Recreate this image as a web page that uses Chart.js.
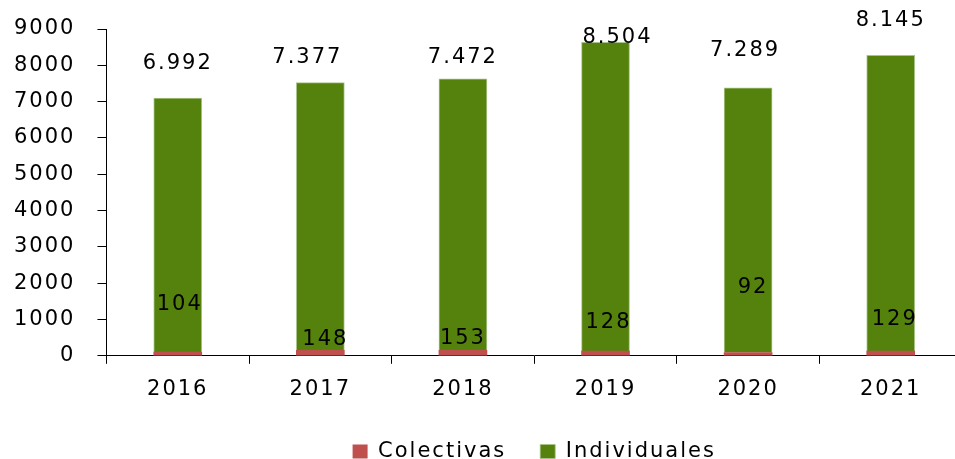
<!DOCTYPE html>
<html>
<head>
<meta charset="utf-8">
<script src="https://cdn.jsdelivr.net/npm/chart.js@4/dist/chart.umd.min.js"></script>
<style>
  html, body { margin: 0; padding: 0; background: #fff; overflow: hidden; }
  #wrap { width: 962px; height: 459px; }
</style>
</head>
<body>
<div id="wrap"><canvas id="chart"></canvas></div>
<script>
// Chart data
const years = ['2016', '2017', '2018', '2019', '2020', '2021'];
const colectivas = [104, 148, 153, 128, 92, 129];
const individuales = [6992, 7377, 7472, 8504, 7289, 8145];
const yTicks = { min: 0, max: 9000, step: 1000 };

// Thousands with a dot, as in the original
function fmt(n) {
    return String(n).replace(/\B(?=(\d{3})+(?!\d))/g, '.');
}

// Where the labels sit: [x shift in px, height in axis units]
const labelSpots = {
    1: [[0, 8056], [-13, 8222], [0, 8222], [12, 8778], [-3, 8417], [0, 9222]],
    0: [[2, 1417], [5, 444], [0, 472], [3, 917], [5, 1889], [4, 1000]]
};

const FONT = { family: "'DejaVu Sans', Verdana, sans-serif", size: 21 };

// Wider letter spacing, like the source picture
const spacing = {
    id: 'spacing',
    beforeUpdate(chart) { chart.ctx.letterSpacing = '2px'; },
    beforeDraw(chart) { chart.ctx.letterSpacing = '2px'; }
};

// Draw value labels
const valueLabels = {
    id: 'valueLabels',
    afterDatasetsDraw(chart) {
        const ctx = chart.ctx;
        const yScale = chart.scales.y;
        ctx.save();
        ctx.letterSpacing = '2px';
        ctx.font = FONT.size + 'px ' + FONT.family;
        ctx.fillStyle = '#000';
        ctx.textAlign = 'center';
        ctx.textBaseline = 'middle';
        chart.data.datasets.forEach((ds, i) => {
            const meta = chart.getDatasetMeta(i);
            meta.data.forEach((bar, j) => {
                const spot = labelSpots[i][j];
                ctx.fillText(fmt(ds.data[j]), bar.x + spot[0], yScale.getPixelForValue(spot[1]));
            });
        });
        ctx.restore();
    }
};

new Chart(document.getElementById('chart').getContext('2d'), {
    type: 'bar',
    data: {
        labels: years,
        datasets: [{
            label: 'Colectivas',
            data: colectivas,
            backgroundColor: '#C0504D',
            borderWidth: 0,
            barThickness: 48
        }, {
            label: 'Individuales',
            data: individuales,
            backgroundColor: '#55820C',
            borderColor: '#A8C48A',
            borderWidth: { left: 1, right: 1, top: 1, bottom: 0 },
            borderSkipped: false,
            barThickness: 48
        }]
    },
    options: {
        responsive: true,
        maintainAspectRatio: false,
        animation: false,
        layout: { padding: { top: 29, left: -8, right: 0, bottom: -13 } },
        plugins: {
            legend: {
                position: 'bottom',
                fullSize: false,
                labels: {
                    font: FONT,
                    color: '#000',
                    boxWidth: 15,
                    boxHeight: 14,
                    padding: 34
                }
            },
            tooltip: { enabled: false }
        },
        scales: {
            x: {
                stacked: true,
                border: { display: true, color: '#000', width: 1 },
                grid: { drawOnChartArea: false, drawTicks: true, tickLength: 8, color: '#000' },
                ticks: { font: FONT, color: '#000', padding: 13 },
                afterFit: (s) => { s.height -= 8; }
            },
            y: {
                stacked: true,
                min: yTicks.min,
                max: yTicks.max,
                border: { display: true, color: '#000', width: 1 },
                grid: { drawOnChartArea: false, drawTicks: true, tickLength: 9, color: '#000' },
                ticks: {
                    font: FONT,
                    color: '#000',
                    stepSize: yTicks.step,
                    padding: 22,
                    callback: (v) => String(v)
                },
                afterFit: (s) => { s.paddingTop = 0; }
            }
        }
    },
    plugins: [spacing, valueLabels]
});
</script>
</body>
</html>
